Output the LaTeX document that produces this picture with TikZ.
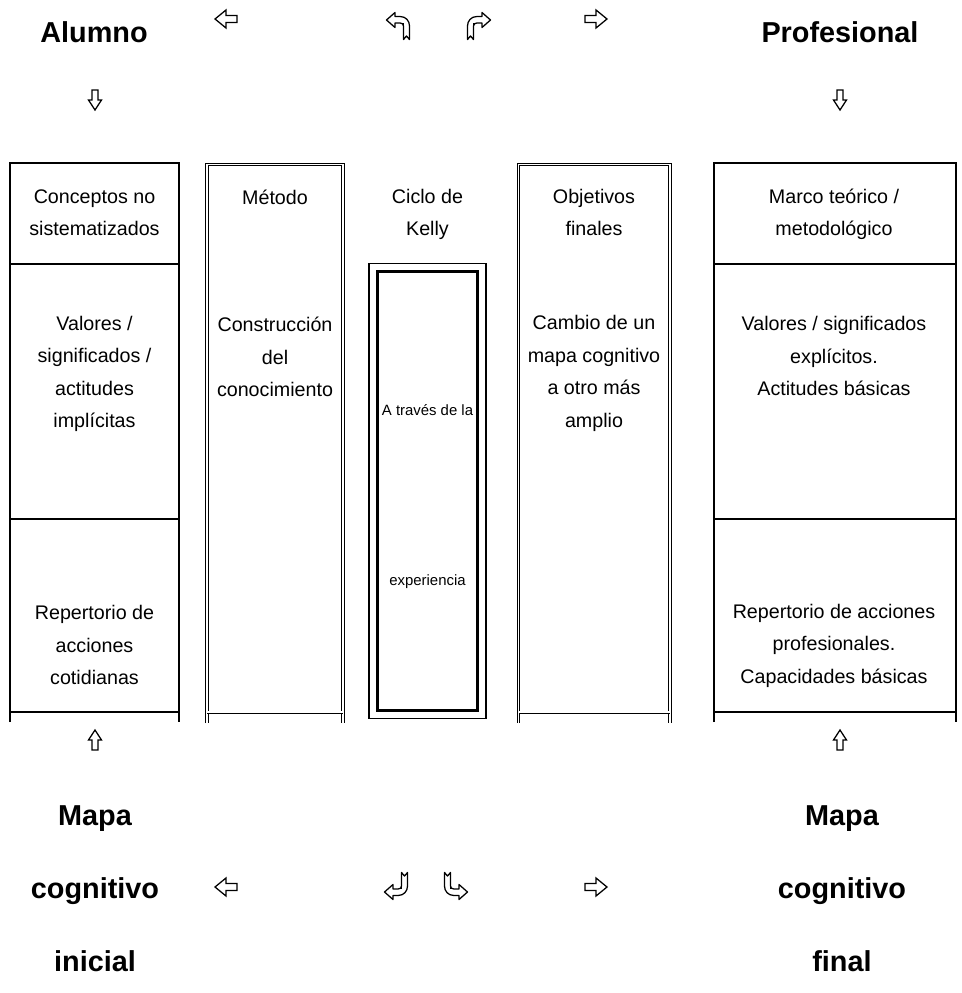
\documentclass[tikz,border=0pt]{standalone}
\usepackage{fontspec}
\setmainfont{Liberation Sans}
\usetikzlibrary{positioning}

\tikzset{
  sidearrow/.pic={
    \draw[line width=0.9pt, fill=white]
      (-11,-3.5) -- (0,-3.5) -- (0,-9) -- (11,0) -- (0,9) -- (0,3.5) -- (-11,3.5) -- cycle;
  },
  downarrow/.pic={
    \draw[line width=0.9pt, fill=white]
      (-3,-10) -- (3,-10) -- (3,0) -- (6.5,0) -- (0,10) -- (-6.5,0) -- (-3,0) -- cycle;
  },
  curlarrow/.pic={
    \draw[line width=0.9pt, line join=round, fill=white]
      (-11.5,-6) -- (-3,-13.5) -- (-3,-9.5) -- (2,-9.5)
      .. controls (8,-9.5) and (11.5,-5) .. (11.5,0) -- (11.5,13.5)
      -- (8.5,10) -- (5.5,13.5) -- (5.5,0)
      .. controls (5.5,-2) and (4,-3) .. (2,-3) -- (-3,-3) -- (-3,1.5) -- cycle;
    \draw[line width=0.7pt] (5.5,0) -- (5.5,-3);
  }
}

\begin{document}
\begin{tikzpicture}[
        x=0.025cm, y=-0.025cm,
        cell/.style={align=center, inner sep=0pt, font=\fontsize{14}{23.1}\selectfont},
        small/.style={align=center, inner sep=0pt, font=\fontsize{10.6}{12}\selectfont},
        title/.style={align=center, inner sep=0pt, font=\fontsize{20.5}{52}\selectfont\bfseries},
        frame/.style={line width=0.8pt},
        dbl/.style={double, double distance=1.25pt, line width=0.6pt},
    ]
        \useasboundingbox (0,0) rectangle (961,993);

        % Titles
        \node[title] (alumno) at (94,32) {Alumno};
        \node[title] (profesional) at (840,32) {Profesional};
        \node[title] (mapaini) at (95,889) {Mapa\\cognitivo\\inicial};
        \node[title] (mapafin) at (842,889) {Mapa\\cognitivo\\final};

        % Arrows
        \pic[rotate=180] at (226,19) {sidearrow};
        \pic at (596,19) {sidearrow};
        \pic at (398,26) {curlarrow};
        \pic[xscale=-1] at (479,26) {curlarrow};
        \pic at (95,100) {downarrow};
        \pic at (840,100) {downarrow};
        \pic[rotate=180] at (95,740) {downarrow};
        \pic[rotate=180] at (840,740) {downarrow};
        \pic[rotate=180] at (226,887) {sidearrow};
        \pic at (596,887) {sidearrow};
        \pic[yscale=-1] at (396,886) {curlarrow};
        \pic[rotate=180] at (456,886) {curlarrow};

        % Alumno column
        \draw[frame] (10,722) -- (10,163) -- (179,163) -- (179,722);
        \foreach \y in {264,519,712} {
            \draw[frame] (10,\y) -- (179,\y);
        }
        \node[cell] (conceptos) at (94.5,212.5) {Conceptos no\\sistematizados};
        \node[cell] (valoresini) at (94.5,374) {Valores /\\significados /\\actitudes\\implícitas};
        \node[cell] (repini) at (94.5,645) {Repertorio de\\acciones\\cotidianas};

        % Metodo column
        \draw[dbl] (207,723) -- (207,164.5) -- (343,164.5) -- (343,723);
        \draw[dbl] (207,712.3) -- (343,712.3);
        \node[cell] (metodo) at (275,197) {Método};
        \node[cell] (construccion) at (275,357) {Construcción\\del\\conocimiento};

        % Ciclo de Kelly
        \node[cell] (ciclo) at (427.5,214.5) {Ciclo de\\Kelly};
        \draw[line width=1.4pt] (369,263.5) rectangle (486,718.5);
        \draw[line width=2.2pt] (377.5,271.5) rectangle (477.5,710.5);
        \node[small] (traves) at (427.5,410) {A través de la};
        \node[small] (experiencia) at (427.5,582) {experiencia};

        % Objetivos column
        \draw[dbl] (518.5,723) -- (518.5,164.5) -- (670,164.5) -- (670,723);
        \draw[dbl] (518.5,712.3) -- (670,712.3);
        \node[cell] (objetivos) at (594,212.5) {Objetivos\\finales};
        \node[cell] (cambio) at (594,373.5) {Cambio de un\\mapa cognitivo\\a otro más\\amplio};

        % Profesional column
        \draw[frame] (714,722) -- (714,163) -- (956,163) -- (956,722);
        \foreach \y in {264,519,712} {
            \draw[frame] (714,\y) -- (956,\y);
        }
        \node[cell] (marco) at (834,214.5) {Marco teórico /\\metodológico};
        \node[cell] (valoresfin) at (834,356) {Valores / significados\\explícitos.\\Actitudes básicas};
        \node[cell] (repfin) at (834,645.5) {Repertorio de acciones\\profesionales.\\Capacidades básicas};

    \end{tikzpicture}
\end{document}
